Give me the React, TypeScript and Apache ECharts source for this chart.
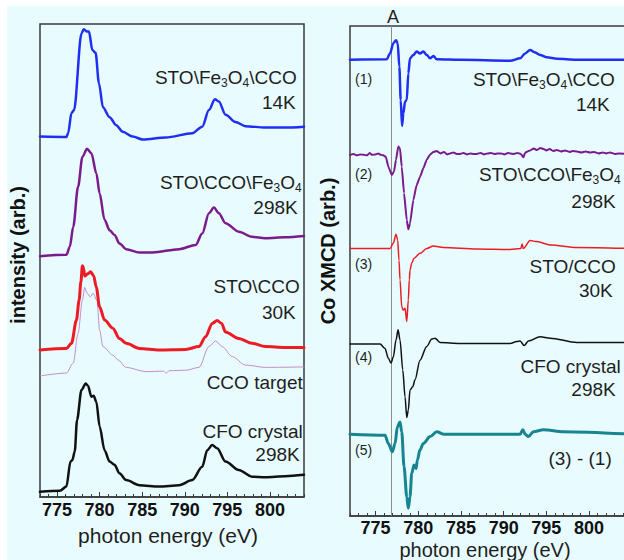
import React, { useEffect, useRef } from "react";
import * as echarts from "echarts";

const FONT = "'Liberation Sans', Arial, Helvetica, sans-serif";

// ---- Co L-edge absorption spectra (left panel), [photon energy eV, intensity arb.] ----
const absBlue: [number, number][] = [
  [773.0, 76.2], [776.1, 76.1], [776.3, 76.9], [776.7, 81.2], [777.0, 81.8], [777.87, 98.0],
  [778.13, 98.9], [778.52, 98.4], [778.75, 98.4], [779.15, 94.5], [779.53, 93.9], [779.92, 87.5],
  [780.39, 82.4], [781.17, 80.3], [781.95, 78.6], [782.72, 77.2], [783.89, 76.2], [785.05, 75.6],
  [787.78, 76.0], [790.89, 76.9], [792.05, 78.3], [792.84, 81.8], [793.54, 84.1], [794.0, 83.6],
  [794.79, 80.8], [795.95, 79.3], [797.12, 78.4], [799.45, 78.1], [801.79, 78.1], [804.0, 78.3],
];
const absPurple: [number, number][] = [
  [773.0, 50.9], [776.1, 51.2], [776.5, 52.9], [776.9, 57.1], [777.47, 65.6], [777.98, 71.9],
  [778.52, 73.6], [779.03, 72.7], [779.62, 68.4], [780.0, 64.2], [780.58, 58.6], [781.17, 56.4],
  [781.75, 55.4], [782.33, 53.6], [783.12, 52.4], [784.67, 51.7], [786.22, 51.7], [789.34, 52.4],
  [791.28, 53.3], [792.05, 55.7], [792.84, 60.0], [793.42, 61.2], [794.0, 60.0], [794.79, 57.9],
  [796.34, 56.1], [797.89, 55.0], [799.45, 54.7], [801.79, 54.9], [804.0, 55.2],
];
const absRed: [number, number][] = [
  [773.0, 31.1], [776.1, 31.4], [776.7, 32.5], [777.28, 37.4], [777.59, 41.6], [777.8, 45.5],
  [777.98, 48.9], [778.1, 48.5], [778.25, 46.7], [778.6, 47.2], [778.95, 47.6], [779.3, 46.8],
  [779.6, 44.4], [780.0, 40.2], [780.58, 37.4], [781.55, 35.7], [782.33, 33.5], [783.12, 32.5],
  [784.67, 31.4], [787.0, 31.1], [790.12, 31.2], [791.67, 31.8], [792.45, 33.9], [793.22, 36.7],
  [793.8, 37.3], [794.32, 36.7], [794.79, 34.9], [796.34, 33.5], [797.89, 32.5], [799.45, 31.8],
  [801.79, 31.6], [804.0, 31.6],
];
const absTarget: [number, number][] = [
  [773.0, 25.6], [776.1, 26.2], [776.9, 28.3], [777.47, 34.6], [777.98, 41.6], [778.25, 44.3],
  [778.52, 43.1], [778.92, 42.3], [779.22, 43.1], [779.69, 41.6], [780.0, 35.3], [780.39, 31.8],
  [781.55, 30.0], [782.14, 29.0], [783.12, 27.4], [785.45, 26.5], [787.5, 26.6], [787.8, 26.2],
  [788.2, 26.7], [790.12, 26.8], [791.67, 27.4], [792.84, 31.8], [793.62, 33.0], [794.39, 31.8],
  [795.56, 29.7], [797.12, 27.9], [799.45, 27.4], [804.0, 27.5],
];
const absBlack: [number, number][] = [
  [773.0, 1.1], [775.33, 1.3], [776.1, 2.2], [776.58, 7.5], [776.8, 7.8], [777.08, 9.6],
  [777.35, 16.3], [777.87, 22.6], [778.37, 24.0], [778.64, 23.5], [779.03, 21.2], [779.3, 21.4],
  [779.62, 20.1], [780.0, 14.9], [780.58, 9.9], [781.17, 7.5], [781.75, 6.8], [782.33, 5.0],
  [783.12, 3.6], [784.67, 2.5], [787.0, 2.2], [789.34, 2.5], [790.89, 3.6], [792.05, 6.4],
  [792.64, 9.9], [793.22, 11.0], [793.8, 10.3], [794.79, 7.5], [796.34, 5.7], [797.89, 4.3],
  [799.45, 4.2], [801.79, 4.4], [804.0, 4.7],
];

// ---- Co XMCD spectra (right panel), [photon energy eV, XMCD arb.] ----
const xmcd1: [number, number][] = [
  [772.0, 93.1], [776.3, 93.2], [776.69, 94.4], [777.08, 96.5], [777.39, 97.1], [777.59, 96.5],
  [777.78, 91.7], [777.94, 84.9], [778.1, 79.6], [778.25, 82.2], [778.45, 84.6], [778.65, 84.9],
  [778.83, 90.3], [779.03, 93.4], [779.42, 94.1], [779.82, 94.8], [780.2, 94.4], [780.59, 94.8],
  [780.99, 94.1], [781.38, 93.4], [781.77, 93.9], [782.16, 93.2], [784.9, 93.1], [790.76, 92.9],
  [791.93, 93.4], [792.52, 94.4], [793.1, 95.1], [793.69, 94.6], [794.27, 94.1], [795.06, 93.6],
  [796.23, 93.3], [798.58, 93.1], [804.8, 93.1],
];
const xmcd2: [number, number][] = [
  [772.0, 73.7], [772.4, 73.9], [772.8, 73.6], [773.2, 73.8], [773.6, 73.7], [774.0, 73.6],
  [774.3, 74.1], [774.6, 73.7], [775.0, 73.8], [775.3, 74.0], [775.6, 73.7], [775.9, 73.6],
  [776.2, 73.3], [776.49, 71.3], [776.89, 69.6], [777.16, 70.3], [777.39, 72.7], [777.66, 75.4],
  [777.86, 75.0], [778.06, 71.3], [778.33, 65.9], [778.65, 60.4], [778.83, 58.5], [779.03, 59.7],
  [779.42, 64.5], [779.8, 67.5], [780.2, 69.2], [780.6, 71.0], [780.99, 72.7], [781.4, 73.8],
  [781.77, 74.3], [782.16, 74.5], [782.6, 74.0], [783.0, 74.3], [783.4, 73.8], [783.72, 74.0],
  [784.1, 74.2], [784.5, 73.9], [784.9, 73.9], [785.3, 74.1], [785.7, 73.8], [786.1, 74.0],
  [786.5, 73.9], [786.85, 73.9], [787.3, 74.1], [787.7, 73.8], [788.1, 74.0], [788.5, 74.1],
  [788.9, 73.9], [789.3, 74.0], [789.7, 74.0], [790.1, 73.8], [790.5, 74.1], [790.76, 74.0],
  [791.2, 73.9], [791.6, 74.1], [792.0, 73.9], [792.32, 73.2], [792.5, 74.1], [792.8, 74.4],
  [793.1, 74.6], [793.5, 75.0], [793.9, 74.7], [794.3, 75.1], [794.66, 74.9], [795.0, 74.6],
  [795.4, 74.9], [795.8, 74.5], [796.23, 74.7], [796.7, 74.4], [797.2, 74.6], [797.7, 74.3],
  [798.1, 74.5], [798.58, 74.4], [799.1, 74.2], [799.6, 74.4], [800.1, 74.2], [800.6, 74.3],
  [801.1, 74.0], [801.6, 74.2], [802.0, 74.0], [802.48, 74.2], [803.0, 73.9], [803.5, 74.0],
  [804.8, 73.8],
];
const xmcd3: [number, number][] = [
  [772.0, 54.6], [776.69, 54.6], [777.08, 55.7], [777.39, 57.5], [777.59, 56.3], [777.74, 52.2],
  [777.86, 48.2], [778.06, 42.7], [778.25, 42.0], [778.45, 42.4], [778.65, 39.7], [778.83, 44.1],
  [778.95, 48.2], [779.03, 50.2], [779.23, 51.6], [779.5, 52.6], [780.2, 53.6], [780.99, 54.6],
  [781.77, 55.1], [782.94, 54.8], [786.85, 54.5], [790.76, 54.4], [792.01, 54.6], [792.16, 55.5],
  [792.3, 54.6], [793.1, 56.2], [793.89, 56.0], [795.45, 55.3], [798.58, 54.8], [804.8, 54.6],
];
const xmcd4: [number, number][] = [
  [772.0, 35.1], [775.52, 35.1], [776.1, 34.2], [776.49, 32.2], [776.81, 31.2], [777.08, 32.5],
  [777.39, 35.9], [777.63, 38.0], [777.86, 35.9], [778.18, 29.8], [778.45, 24.3], [778.65, 20.1],
  [778.83, 21.6], [779.03, 25.7], [779.35, 26.4], [779.62, 27.8], [780.2, 31.8], [780.99, 34.6],
  [781.58, 36.1], [781.96, 36.3], [782.55, 35.4], [784.9, 35.2], [790.76, 35.2], [791.54, 35.6],
  [791.93, 35.7], [792.4, 34.8], [792.9, 35.7], [794.27, 36.6], [795.45, 36.3], [798.58, 35.4],
  [804.8, 35.4],
];
const xmcd5: [number, number][] = [
  [772.0, 16.7], [776.1, 16.5], [776.49, 14.8], [776.96, 13.1], [777.28, 14.8], [777.55, 18.2],
  [777.86, 19.2], [778.06, 17.2], [778.33, 10.1], [778.65, 3.9], [778.83, 1.6], [779.03, 3.9],
  [779.23, 8.7], [779.5, 10.4], [779.74, 9.7], [779.89, 11.4], [780.2, 13.5], [780.59, 14.8],
  [781.38, 16.2], [782.16, 17.2], [782.94, 16.7], [786.85, 16.7], [791.93, 16.7], [792.25, 17.6],
  [792.52, 16.7], [792.9, 16.2], [793.49, 17.2], [794.66, 17.6], [797.0, 17.2], [804.8, 16.7],
];

const peakA = 776.8;
const majorTicks = [775, 780, 785, 790, 795, 800];

const FRAME = "#3a3a3a";
const TEXT = "#1e1e1e";

const rich = {
  m: { fontSize: 19, fontFamily: FONT, lineHeight: 18, verticalAlign: "top", fill: TEXT },
  s: { fontSize: 12, fontFamily: FONT, lineHeight: 12, verticalAlign: "bottom", fill: TEXT },
  p: { fontSize: 1, fontFamily: FONT, lineHeight: 21, fill: TEXT },
  n: { fontSize: 14, fontFamily: FONT, lineHeight: 18, verticalAlign: "top", fill: TEXT },
};

function label(x: number, y: number, text: string, align: "left" | "right" = "right") {
  return {
    type: "text",
    x,
    y: y + 1.5,
    silent: true,
    style: { text: text + "{p| }", rich, align, verticalAlign: "middle", fill: TEXT },
  };
}

const fe3o4cco = "{m|STO\\Fe}{s|3}{m|O}{s|4}{m|\\CCO}";
const ccofe3o4 = "{m|STO\\CCO\\Fe}{s|3}{m|O}{s|4}";

function lineSeries(data: [number, number][], color: string, width: number, grid: 0 | 1, extra: object = {}) {
  return {
    type: "line",
    data,
    xAxisIndex: grid === 0 ? 0 : 2,
    yAxisIndex: grid,
    showSymbol: false,
    smooth: 0.3,
    smoothMonotone: "x",
    lineStyle: { color, width, join: "round", cap: "round" },
    itemStyle: { color },
    z: 3,
    ...extra,
  };
}

// Whole-eV multiples of 5 inside the labelled range get a tick label.
function tickText(v: number) {
  const r = Math.round(v);
  if (Math.abs(v - r) > 1e-6 || r % 5 !== 0 || r < 775 || r > 800) return "";
  return String(r);
}

// Integer-eV minor ticks with bold labels every 5 eV, plus an overlay axis for the longer 5-eV ticks.
function xAxes(gridIndex: number, min: number, max: number, labelMargin: number) {
  return [
    {
      type: "value",
      gridIndex,
      min,
      max,
      interval: 1,
      position: "bottom",
      axisLine: { show: true, lineStyle: { color: FRAME, width: 1.5 } },
      axisTick: { show: true, inside: true, length: 3, lineStyle: { color: FRAME, width: 1 } },
      axisLabel: {
        show: true,
        interval: 0,
        hideOverlap: false,
        formatter: tickText,
        fontSize: 18,
        fontWeight: "bold",
        fontFamily: FONT,
        color: "#111",
        margin: labelMargin,
      },
      splitLine: { show: false },
    },
    {
      type: "value",
      gridIndex,
      min,
      max,
      position: "bottom",
      axisLine: { show: false },
      axisTick: { show: true, inside: true, length: 5, customValues: majorTicks, lineStyle: { color: FRAME, width: 1 } },
      axisLabel: { show: false },
      splitLine: { show: false },
    },
  ];
}

function hiddenY(gridIndex: number) {
  return {
    type: "value",
    gridIndex,
    min: 0,
    max: 100,
    axisLine: { show: false },
    axisTick: { show: false },
    axisLabel: { show: false },
    splitLine: { show: false },
  };
}

const option = {
  animation: false,
  backgroundColor: "transparent",
  textStyle: { fontFamily: FONT },
  grid: [
    {
      left: 40, top: 24, width: 264, height: 473, show: true, borderColor: FRAME, borderWidth: 1.5,
      backgroundColor: "transparent", containLabel: false, outerBoundsMode: "none",
    },
    {
      left: 350, top: 26, width: 280, height: 490, show: true, borderColor: FRAME, borderWidth: 1.5,
      backgroundColor: "transparent", containLabel: false, outerBoundsMode: "none",
    },
  ],
  xAxis: [...xAxes(0, 773, 804, 4), ...xAxes(1, 772, 804.8, 3)],
  yAxis: [hiddenY(0), hiddenY(1)],
  series: [
    lineSeries(absBlue, "#1f2ff2", 2.5, 0),
    lineSeries(absPurple, "#7a1b8c", 2.5, 0),
    lineSeries(absTarget, "#c58bc6", 1, 0),
    lineSeries(absRed, "#ec1c24", 3, 0),
    lineSeries(absBlack, "#111111", 2.5, 0),
    lineSeries(xmcd1, "#1f2ff2", 2.5, 1),
    lineSeries(xmcd2, "#7a1b8c", 2, 1, { smooth: 0.15 }),
    lineSeries(xmcd3, "#ec1c24", 1.5, 1),
    lineSeries(xmcd4, "#111111", 1.5, 1),
    lineSeries(xmcd5, "#17858f", 3, 1, {
      markLine: {
        silent: true,
        symbol: ["none", "none"],
        label: { show: false },
        lineStyle: { color: "#8c8c8c", width: 1, type: "solid" },
        data: [{ xAxis: peakA }],
        z: 1,
      },
    }),
  ],
  graphic: [
    // left panel labels
    label(297, 77, fe3o4cco),
    label(296, 102, "{m|14K}"),
    label(302, 182, ccofe3o4),
    label(298, 207, "{m|298K}"),
    label(300, 286, "{m|STO\\CCO}"),
    label(296, 312, "{m|30K}"),
    label(303, 382, "{m|CCO target}"),
    label(303, 431, "{m|CFO crystal}"),
    label(300, 454, "{m|298K}"),
    // right panel labels
    label(355, 81, "{n|(1)}", "left"),
    label(615, 79, fe3o4cco),
    label(610, 104, "{m|14K}"),
    label(355, 176, "{n|(2)}", "left"),
    label(621, 174, ccofe3o4),
    label(616, 201, "{m|298K}"),
    label(355, 266, "{n|(3)}", "left"),
    label(616, 266, "{m|STO/CCO}"),
    label(613, 290, "{m|30K}"),
    label(355, 359, "{n|(4)}", "left"),
    label(621, 366, "{m|CFO crystal}"),
    label(616, 389, "{m|298K}"),
    label(355, 452, "{n|(5)}", "left"),
    label(612, 458, "{m|(3) - (1)}"),
    {
      type: "text",
      x: 393,
      y: 17,
      silent: true,
      style: { text: "A", fontSize: 18, fontFamily: FONT, fill: TEXT, align: "center", verticalAlign: "middle" },
    },
    // axis titles
    {
      type: "text",
      x: 168,
      y: 535,
      silent: true,
      style: { text: "photon energy (eV)", fontSize: 21, fontFamily: FONT, fill: TEXT, align: "center", verticalAlign: "middle" },
    },
    {
      type: "text",
      x: 485,
      y: 550,
      silent: true,
      style: { text: "photon energy (eV)", fontSize: 20, fontFamily: FONT, fill: TEXT, align: "center", verticalAlign: "middle" },
    },
    {
      type: "text",
      x: 18,
      y: 255,
      rotation: Math.PI / 2,
      silent: true,
      style: { text: "intensity (arb.)", fontSize: 20, fontWeight: "bold", fontFamily: FONT, fill: "#111", align: "center", verticalAlign: "middle" },
    },
    {
      type: "text",
      x: 328,
      y: 251,
      rotation: Math.PI / 2,
      silent: true,
      style: { text: "Co XMCD (arb.)", fontSize: 20, fontWeight: "bold", fontFamily: FONT, fill: "#111", align: "center", verticalAlign: "middle" },
    },
  ],
};

export default function App() {
  const ref = useRef<HTMLDivElement>(null);
  useEffect(() => {
    if (!ref.current) return;
    const chart = echarts.init(ref.current, null, { renderer: "svg" });
    chart.setOption(option as any);
    return () => chart.dispose();
  }, []);
  return (
    <div style={{ position: "fixed", left: 0, top: 0, width: 624, height: 560, background: "#ffffff", overflow: "hidden" }}>
      <div style={{ position: "absolute", left: 7, top: 6, right: 0, bottom: 0, background: "#e8fcff" }} />
      <div ref={ref} style={{ position: "absolute", left: 0, top: 0, width: 624, height: 560 }} />
    </div>
  );
}
